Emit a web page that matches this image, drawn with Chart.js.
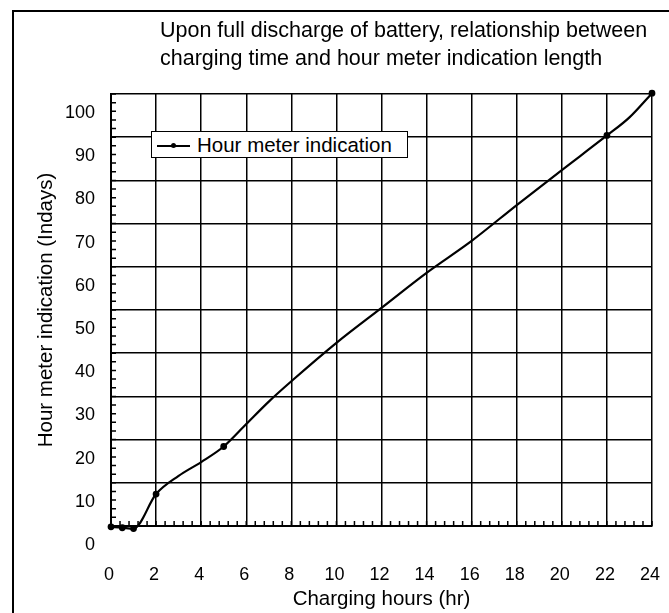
<!DOCTYPE html>
<html lang="en">
<head>
  <meta charset="UTF-8" />
  <title>Hour meter indication</title>
  <script src="https://cdn.jsdelivr.net/npm/chart.js"></script>
  <style>
    body {
      margin: 0;
      background: #fff;
      font-family: 'Liberation Sans', Arial, sans-serif;
    }
    .wrap {
      position: relative;
      width: 669px;
      height: 613px;
      overflow: hidden;
    }
    .frame {
      position: absolute;
      left: 12px;
      top: 10px;
      width: 669px;
      height: 613px;
      border-left: 2px solid #000;
      border-top: 2px solid #000;
    }
    canvas {
      position: absolute;
      left: 0;
      top: 0;
    }
    .title {
      position: absolute;
      left: 160px;
      top: 16px;
      font-size: 21.5px;
      line-height: 28px;
      color: #000;
      white-space: nowrap;
    }
    .legend {
      position: absolute;
      left: 151px;
      top: 131px;
      width: 255px;
      height: 25px;
      border: 1.5px solid #000;
      background: #fff;
      font-size: 20.5px;
      line-height: 25px;
      white-space: nowrap;
    }
    .legend .sample {
      position: absolute;
      left: 5px;
      top: 13px;
      width: 33px;
      border-top: 2px solid #000;
    }
    .legend .sample::after {
      content: '';
      position: absolute;
      left: 14px;
      top: -4px;
      width: 5px;
      height: 5px;
      border-radius: 50%;
      background: #000;
    }
    .legend .label {
      position: absolute;
      left: 45px;
      top: 0;
    }
  </style>
</head>
<body>
<div class="wrap">
  <div class="frame"></div>
  <canvas id="chart" width="669" height="613"></canvas>
  <div class="title">Upon full discharge of battery, relationship between<br>charging time and hour meter indication length</div>
  <div class="legend"><span class="sample"></span><span class="label">Hour meter indication</span></div>
</div>

<script>
  // values
  const hours = [0, 0.5, 1, 2, 3, 4, 5, 6, 7, 8, 10, 12, 14, 16, 18, 20, 22, 23, 24];
  const indication = [4.2, 4.0, 3.8, 11.8, 16.0, 19.2, 22.8, 28.0, 33.2, 37.9, 46.8, 54.9, 63.0, 70.4, 78.7, 86.8, 94.8, 99.0, 104.6];
  const markerHours = [0, 0.5, 1, 2, 5, 22, 24];
  const xTicks = [0, 2, 4, 6, 8, 10, 12, 14, 16, 18, 20, 22, 24];
  const yTickLabels = [0, 10, 20, 30, 40, 50, 60, 70, 80, 90, 100];

  // the printed grid sits a little above the printed labels
  const gridShift = 4.4;

  const minorTicks = {
    id: 'minorTicks',
    afterDraw(chart) {
      const { ctx, scales: { x, y }, chartArea: a } = chart;
      ctx.save();
      ctx.strokeStyle = '#000';
      ctx.lineWidth = 1.5;
      ctx.beginPath();
      for (let v = gridShift; v <= 104.5; v += 2) {
        const py = y.getPixelForValue(v);
        ctx.moveTo(a.left, py);
        ctx.lineTo(a.left + 5, py);
      }
      for (let v = 0; v <= 24.01; v += 0.4) {
        const px = x.getPixelForValue(v);
        ctx.moveTo(px, a.bottom);
        ctx.lineTo(px, a.bottom - 5);
      }
      ctx.stroke();
      ctx.restore();
    }
  };

  new Chart(document.getElementById('chart'), {
    type: 'line',
    data: {
      labels: hours,
      datasets: [{
        label: 'Hour meter indication',
        data: hours.map((h, i) => ({ x: h, y: indication[i] })),
        borderColor: '#000',
        backgroundColor: '#000',
        borderWidth: 2.2,
        cubicInterpolationMode: 'monotone',
        pointRadius: ctx => markerHours.includes(hours[ctx.dataIndex]) ? 2.3 : 0,
        clip: false
      }]
    },
    options: {
      responsive: false,
      animation: false,
      devicePixelRatio: 1,
      layout: { padding: { top: 94, right: 17, left: 0, bottom: 0 } },
      plugins: {
        legend: { display: false },
        tooltip: { enabled: false }
      },
      scales: {
        x: {
          type: 'linear',
          min: 0,
          max: 24,
          afterBuildTicks: s => { s.ticks = xTicks.map(v => ({ value: v })); },
          afterFit: s => {
            s.height = 87;
            s.paddingLeft = 0;
            s.paddingRight = 0;
          },
          grid: { color: '#000', lineWidth: 1.5, drawTicks: false },
          border: { color: '#000', width: 2 },
          ticks: {
            autoSkip: false,
            maxRotation: 0,
            padding: 38,
            labelOffset: -2,
            color: '#000',
            font: { family: 'Liberation Sans', size: 18 }
          },
          title: {
            display: true,
            text: 'Charging hours (hr)',
            color: '#000',
            font: { family: 'Liberation Sans', size: 20.5 },
            padding: { top: 0, bottom: 1 }
          }
        },
        y: {
          min: gridShift,
          max: 100 + gridShift,
          afterBuildTicks: s => { s.ticks = yTickLabels.map(v => ({ value: v + gridShift })); },
          afterFit: s => { s.width = 111; },
          grid: { color: '#000', lineWidth: 1.5, drawTicks: false },
          border: { color: '#000', width: 2 },
          ticks: {
            autoSkip: false,
            padding: 16,
            labelOffset: 19,
            color: '#000',
            font: { family: 'Liberation Sans', size: 18 },
            callback: v => Math.round(v - gridShift)
          },
          title: {
            display: true,
            text: 'Hour meter indication (Indays)',
            color: '#000',
            font: { family: 'Liberation Sans', size: 20.5 },
            padding: { top: 34, bottom: 0 }
          }
        }
      }
    },
    plugins: [minorTicks]
  });
</script>
</body>
</html>
